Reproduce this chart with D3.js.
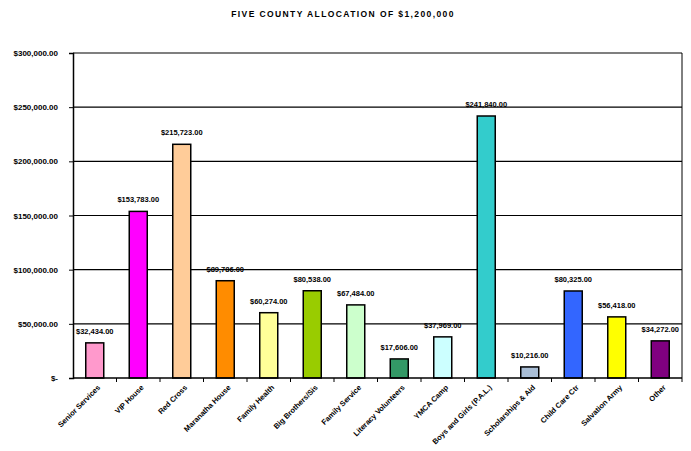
<!DOCTYPE html>
<html>
<head>
<meta charset="utf-8">
<script src="https://cdn.jsdelivr.net/npm/d3@7/dist/d3.min.js"></script>
<style>
body { margin: 0; background: #fff; }
text { font-family: "Liberation Sans", Arial, sans-serif; font-weight: bold; }
</style>
</head>
<body>
<div id="chartdiv"></div>
<script>
/*global d3 */

////////////////////////////////////////
// data
////////////////////////////////////////

var chartTitle = "FIVE COUNTY ALLOCATION OF $1,200,000";

var agencies = ["Senior Services", "VIP House", "Red Cross",
    "Maranatha House", "Family Health", "Big Brothers/Sis",
    "Family Service", "Literacy Volunteers", "YMCA Camp",
    "Boys and Girls (P.A.L.)", "Scholarships & Aid", "Child Care Ctr",
    "Salvation Army", "Other"];

var allocations = [32434, 153783, 215723, 89786, 60274, 80538, 67484,
    17606, 37969, 241840, 10216, 80325, 56418, 34272];

var barColors = ["#FF99CC", "#FF00FF", "#FFCC99", "#FF8C00", "#FFFF99",
    "#99CC00", "#CCFFCC", "#339966", "#CCFFFF", "#33CCCC", "#A9BED6",
    "#3366FF", "#FFFF00", "#800080"];

var yTicks = [0, 50000, 100000, 150000, 200000, 250000, 300000];


(function () {
    "use strict";

    var lay = {width: 691, height: 451, left: 73, right: 682,
               top: 53, bottom: 378, barw: 18},
        svg, x, y, money, fmt;

    money = d3.format(",.2f");
    fmt = function (v) {
        return v === 0 ? "$-" : "$" + money(v); };

    svg = d3.select("#chartdiv").append("svg")
        .attr("width", lay.width)
        .attr("height", lay.height);

    x = d3.scaleBand()
        .domain(agencies)
        .range([lay.left, lay.right]);

    y = d3.scaleLinear()
        .domain([0, 300000])
        .range([lay.bottom, lay.top]);

    // title
    svg.append("text")
        .attr("x", 343).attr("y", 17)
        .attr("text-anchor", "middle")
        .style("font-size", "8.5px")
        .style("letter-spacing", "1.4px")
        .text(chartTitle);

    // gridlines
    svg.append("g").selectAll("line")
        .data(yTicks.slice(1))
        .join("line")
        .attr("x1", lay.left).attr("x2", lay.right)
        .attr("y1", function (d) { return y(d); })
        .attr("y2", function (d) { return y(d); })
        .attr("stroke", "#000").attr("stroke-width", 1.2);

    // right border of plot
    svg.append("line")
        .attr("x1", lay.right).attr("x2", lay.right)
        .attr("y1", lay.top).attr("y2", lay.bottom)
        .attr("stroke", "#000").attr("stroke-width", 1);

    // y axis
    svg.append("g")
        .attr("transform", "translate(" + lay.left + ",0)")
        .call(d3.axisLeft(y).tickValues(yTicks).tickFormat(fmt)
              .tickSize(4).tickPadding(11))
        .call(function (g) {
            g.select(".domain").attr("stroke-width", 1.5);
            g.selectAll("text").style("font-size", "8px")
                .style("font-family", "'Liberation Sans', Arial, sans-serif")
                .style("font-weight", "bold"); });

    // bars
    svg.append("g").selectAll("rect")
        .data(allocations)
        .join("rect")
        .attr("x", function (d, i) {
            return x(agencies[i]) + (x.bandwidth() - lay.barw) / 2; })
        .attr("y", function (d) { return y(d); })
        .attr("width", lay.barw)
        .attr("height", function (d) { return y(0) - y(d); })
        .attr("fill", function (d, i) { return barColors[i]; })
        .attr("stroke", "#000").attr("stroke-width", 1.5);

    // value labels
    svg.append("g").selectAll("text")
        .data(allocations)
        .join("text")
        .attr("x", function (d, i) {
            return x(agencies[i]) + x.bandwidth() / 2; })
        .attr("y", function (d) { return y(d) - 9; })
        .attr("text-anchor", "middle")
        .style("font-size", "7.5px")
        .text(function (d) { return fmt(d); });

    // x axis with ticks between categories
    svg.append("line")
        .attr("x1", lay.left).attr("x2", lay.right)
        .attr("y1", lay.bottom).attr("y2", lay.bottom)
        .attr("stroke", "#000").attr("stroke-width", 1.5);
    svg.append("g").selectAll("line")
        .data(agencies)
        .join("line")
        .attr("x1", function (d) { return x(d) + x.bandwidth(); })
        .attr("x2", function (d) { return x(d) + x.bandwidth(); })
        .attr("y1", lay.bottom).attr("y2", lay.bottom + 4)
        .attr("stroke", "#000");

    svg.append("g").selectAll("text")
        .data(agencies)
        .join("text")
        .attr("transform", function (d) {
            return "translate(" + (x(d) + x.bandwidth() / 2 + 6) + "," +
                (lay.bottom + 10) + ") rotate(-45)"; })
        .attr("text-anchor", "end")
        .style("font-size", "7.5px")
        .text(function (d) { return d; });
}());
</script>
</body>
</html>
